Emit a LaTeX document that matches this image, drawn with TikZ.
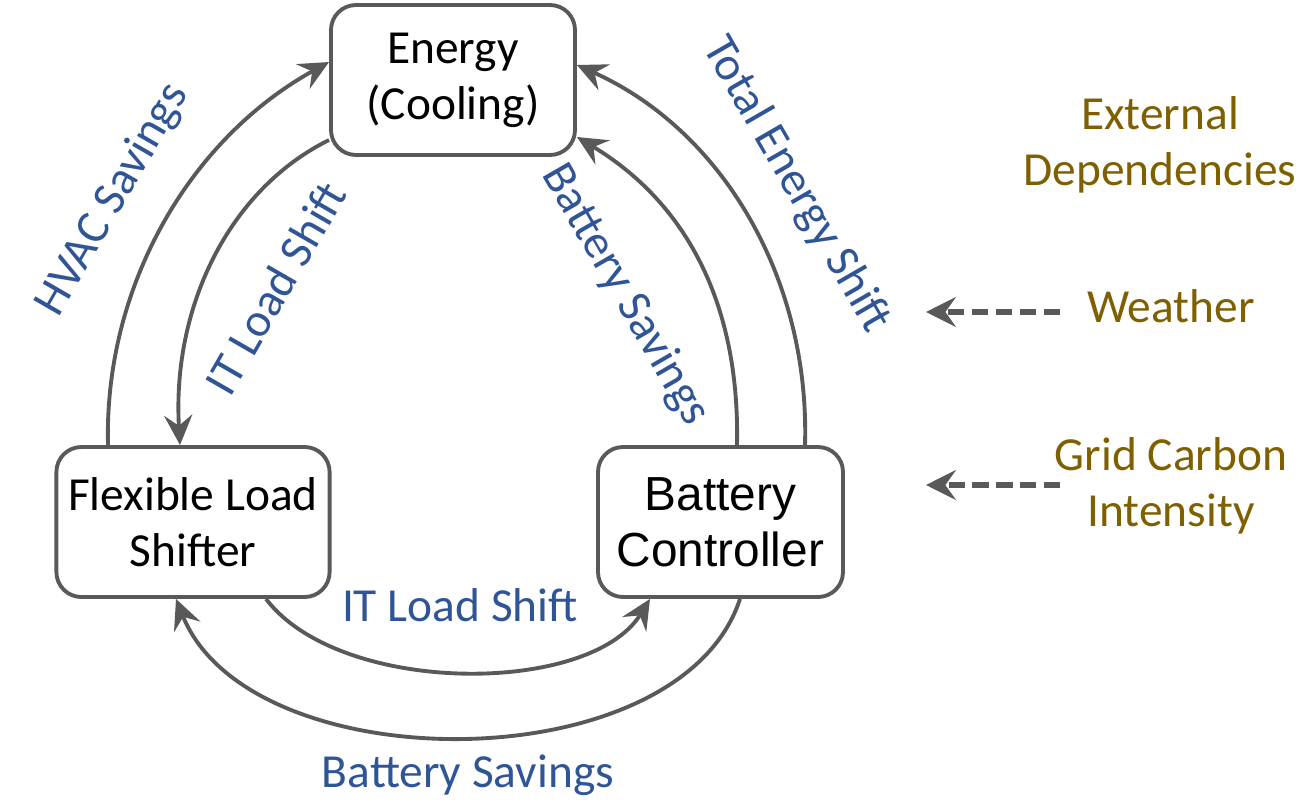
\documentclass[tikz,border=0pt]{standalone}
\usepackage{fontspec}
\setmainfont{Carlito}
\newfontfamily\arialfont{Liberation Sans}
\usetikzlibrary{arrows.meta,positioning}
\definecolor{linegray}{HTML}{595959}
\definecolor{labelblue}{HTML}{2F5597}
\definecolor{depgold}{HTML}{7F6000}

\begin{document}
\begin{tikzpicture}[
    x=0.1mm, y=-0.1mm,
    block/.style={rectangle, draw=linegray, line width=1.1pt, rounded corners=2.5mm, minimum height=15mm, align=center, font=\fontsize{13.5}{16}\selectfont},
    lbl/.style={text=labelblue, font=\fontsize{13.5}{16}\selectfont},
    extdep/.style={text=depgold, align=center, font=\fontsize{13.5}{16}\selectfont},
    flow/.style={-{Stealth[length=8.5pt,width=8pt,inset=3pt]}, draw=linegray, line width=1.1pt},
    dep/.style={-{Stealth[length=8.5pt,width=8.5pt,inset=3pt]}, draw=linegray, line width=1.8pt, dash pattern=on 4.6pt off 2.2pt}
]
    \useasboundingbox (0,0) rectangle (1309,810);

    % the three controllers
    \node[block, minimum width=24.4mm] (energy) at (453,80) {Energy\\(Cooling)};
    \node[block, minimum width=27mm] (flex) at (193,522) {Flexible Load\\Shifter};
    \node[block, minimum width=24.5mm, font=\arialfont\fontsize{13.6}{16}\selectfont] (batt) at (720.5,522) {Battery\\Controller};

    % outer ring
    \draw[flow] ([xshift=-8.5mm]flex.north) .. controls +(-4,-157) and +(-141,78) .. ([yshift=1.8mm]energy.west);
    \draw[flow] ([xshift=8.45mm]batt.north) .. controls +(5,-167) and +(145,65) .. ([yshift=1.5mm]energy.east);
    \draw[flow] ([xshift=1.95mm]batt.south) .. controls +(-60,184) and +(74,184) .. ([xshift=-1.7mm]flex.south);

    % inner ring
    \draw[flow] ([yshift=-6mm]energy.west) .. controls +(-101,50) and +(-8,-137) .. ([xshift=-1.3mm]flex.north);
    \draw[flow] ([xshift=1.65mm]batt.north) .. controls +(3,-147) and +(105,63) .. ([yshift=-5.7mm]energy.east);
    \draw[flow] ([xshift=7.3mm]flex.south) .. controls +(74,97) and +(-60,97) .. ([xshift=-7.05mm]batt.south);

    \node[lbl, rotate=60] (hvac) at (113,200) {HVAC Savings};
    \node[lbl, rotate=60] (itleft) at (275,288) {IT Load Shift};
    \node[lbl, rotate=-60] (battsav) at (625,295) {Battery Savings};
    \node[lbl, rotate=-60] (total) at (796,185) {Total Energy Shift};
    \node[lbl] (itbottom) at (460,605) {IT Load Shift};
    \node[lbl] (battbottom) at (468,775) {Battery Savings};

    % external dependencies
    \node[extdep] (ext) at (1160,145) {External\\Dependencies};
    \node[extdep] (weather) at (1171,306) {Weather};
    \node[extdep] (grid) at (1171,486) {Grid Carbon\\Intensity};
    \coordinate (wtip) at (926,312);
    \coordinate (gtip) at (926,485);

    \draw[dep] ([xshift=-1.5mm]weather.west |- wtip) -- (wtip);
    \draw[dep] ([xshift=1.8mm]grid.west |- gtip) -- (gtip);
\end{tikzpicture}
\end{document}
